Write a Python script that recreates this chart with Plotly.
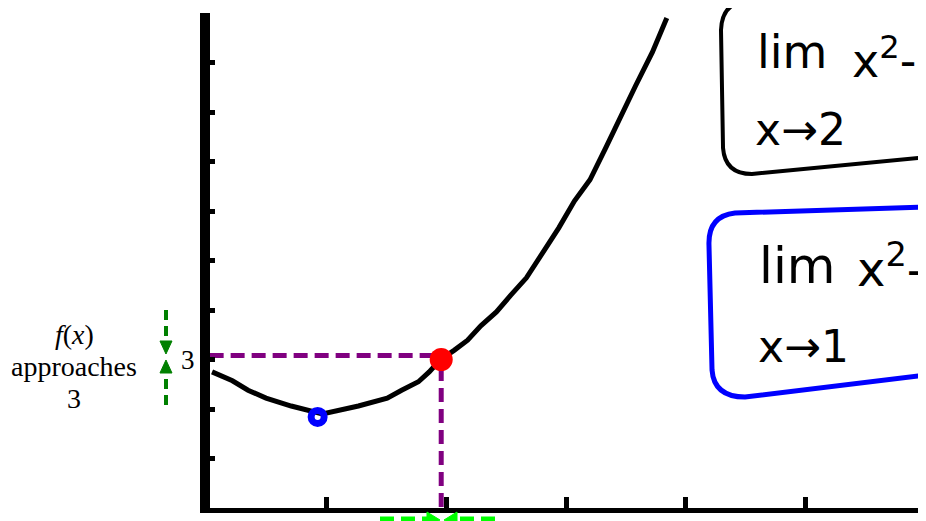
import plotly.graph_objects as go

# curve (x in axis units, y in axis units)
curve_x = [0.05, 0.22, 0.35, 0.50, 0.71, 0.97, 1.27, 1.51, 1.63, 1.77, 1.86, 1.95,
           2.07, 2.18, 2.29, 2.42, 2.54, 2.67, 2.82, 2.94, 3.07, 3.20, 3.33, 3.46,
           3.58, 3.72, 3.84]
curve_y = [2.75, 2.57, 2.38, 2.22, 2.06, 1.90, 2.06, 2.22, 2.38, 2.55, 2.75, 2.99,
           3.19, 3.39, 3.68, 3.96, 4.30, 4.65, 5.21, 5.66, 6.20, 6.63, 7.27, 7.94,
           8.53, 9.21, 9.90]

limit_x = [1.96]
limit_y = [3.0]
blue_x = [0.93]
blue_y = [1.84]

guide_h_x = [0.03, 1.96]
guide_h_y = [3.08, 3.08]
guide_v_x = [1.96, 1.96]
guide_v_y = [2.85, 0.0]

x_ticks = [1, 2, 3, 4, 5]
y_ticks = [1, 2, 3, 4, 5, 6, 7, 8, 9, 10]
y_tick_text = ['', '', '3', '', '', '', '', '', '', '']

# the page puts the figure 8px in from the top-left corner;
# these helpers take page pixels and give paper fractions
# plot area on the page: left 210, right 934, bottom 508, top 13
def px(x):
    return (x - 210) / 724

def py(y):
    return (508 - y) / 495

SERIF = 'Liberation Serif'
HAND = 'DejaVu Sans'

fig = go.Figure()
fig.add_trace(go.Scatter(x=guide_h_x, y=guide_h_y, mode='lines',
                         line=dict(color='#800080', width=5, dash='14px,7px'), hoverinfo='skip'))
fig.add_trace(go.Scatter(x=guide_v_x, y=guide_v_y, mode='lines',
                         line=dict(color='#800080', width=5, dash='14px,7px'), hoverinfo='skip'))
fig.add_trace(go.Scatter(x=curve_x, y=curve_y, mode='lines',
                         line=dict(color='black', width=5)))
fig.add_trace(go.Scatter(x=limit_x, y=limit_y, mode='markers',
                         marker=dict(color='red', size=23)))
fig.add_trace(go.Scatter(x=blue_x, y=blue_y, mode='markers',
                         marker=dict(symbol='circle-open', color='blue', size=13,
                                     line=dict(width=7, color='blue'))))

shapes = []


def dashed(x0, y0, x1, y1, color, width, dash):
    shapes.append(dict(type='line', xref='paper', yref='paper',
                       x0=px(x0), x1=px(x1), y0=py(y0), y1=py(y1),
                       line=dict(color=color, width=width, dash=dash)))


def head(pts, color):
    d = 'M ' + ' L '.join('%.4f,%.4f' % (px(a), py(b)) for a, b in pts) + ' Z'
    shapes.append(dict(type='path', xref='paper', yref='paper', path=d,
                       fillcolor=color, line=dict(color=color, width=1)))


# green dashed arrows beside the y axis
dashed(166, 310, 166, 344, 'green', 4, '10px,6px')
head([(160, 341), (172, 341), (166, 354)], 'green')
dashed(166, 405, 166, 372, 'green', 4, '10px,6px')
head([(160, 373), (172, 373), (166, 360)], 'green')
# lime dashed arrows under the x axis
dashed(380, 520, 428, 520, '#00ff00', 7, '14px,7px')
head([(427, 512), (427, 528), (440, 520)], '#00ff00')
dashed(495, 520, 458, 520, '#00ff00', 7, '14px,7px')
head([(457, 512), (457, 528), (444, 520)], '#00ff00')


def box_path(pts):
    d = ''
    for cmd, coords in pts:
        d += cmd + ' ' + ' '.join('%.4f,%.4f' % (px(a), py(b)) for a, b in coords) + ' '
    return d


black_box = [('M', [(960, 0)]), ('L', [(748, 1)]), ('Q', [(722, 2), (721, 30)]),
             ('L', [(723, 148)]), ('Q', [(725, 174), (752, 174)]), ('L', [(960, 154)])]
blue_box = [('M', [(960, 206)]), ('L', [(735, 213)]), ('Q', [(708, 216), (709, 245)]),
            ('L', [(712, 370)]), ('Q', [(714, 397), (745, 397)]), ('L', [(960, 371)])]
shapes.append(dict(type='path', xref='paper', yref='paper', path=box_path(black_box),
                   line=dict(color='black', width=4)))
shapes.append(dict(type='path', xref='paper', yref='paper', path=box_path(blue_box),
                   line=dict(color='blue', width=5)))

ann = []
for text, y in [('<i>f</i>(<i>x</i>)', 334), ('approaches', 367), ('3', 398)]:
    ann.append(dict(text=text, xref='paper', yref='paper', x=px(74), y=py(y),
                    xanchor='center', yanchor='middle', showarrow=False,
                    font=dict(family=SERIF, size=28, color='black')))

# handwritten notes
for text, x, y, size in [('lim', 755, 52, 46), ('x<sup>2</sup>-2', 850, 58, 46),
                         ('x→2', 753, 130, 44),
                         ('lim', 757, 266, 50), ('x<sup>2</sup>-2', 855, 266, 48),
                         ('x→1', 756, 346, 44)]:
    ann.append(dict(text=text, xref='paper', yref='paper', x=px(x), y=py(y),
                    xanchor='left', yanchor='middle', showarrow=False,
                    font=dict(family=HAND, size=size, color='black')))

fig.update_layout(
    width=926, height=521,
    margin=dict(l=202, r=0, t=5, b=21),
    plot_bgcolor='white', paper_bgcolor='white',
    showlegend=False,
    shapes=shapes, annotations=ann,
    xaxis=dict(range=[0.033, 6.067], showline=True, linewidth=5, linecolor='black',
               ticks='inside', ticklen=11, tickwidth=5, tickcolor='black',
               tickvals=x_ticks, showticklabels=False, showgrid=False, zeroline=False),
    yaxis=dict(range=[0, 10], showline=True, linewidth=10, linecolor='black',
               ticks='inside', ticklen=5, tickwidth=5, tickcolor='black',
               tickvals=y_ticks, ticktext=y_tick_text, showgrid=False, zeroline=False,
               tickfont=dict(family=SERIF, size=27, color='black')),
)

fig.write_html('out.html')
